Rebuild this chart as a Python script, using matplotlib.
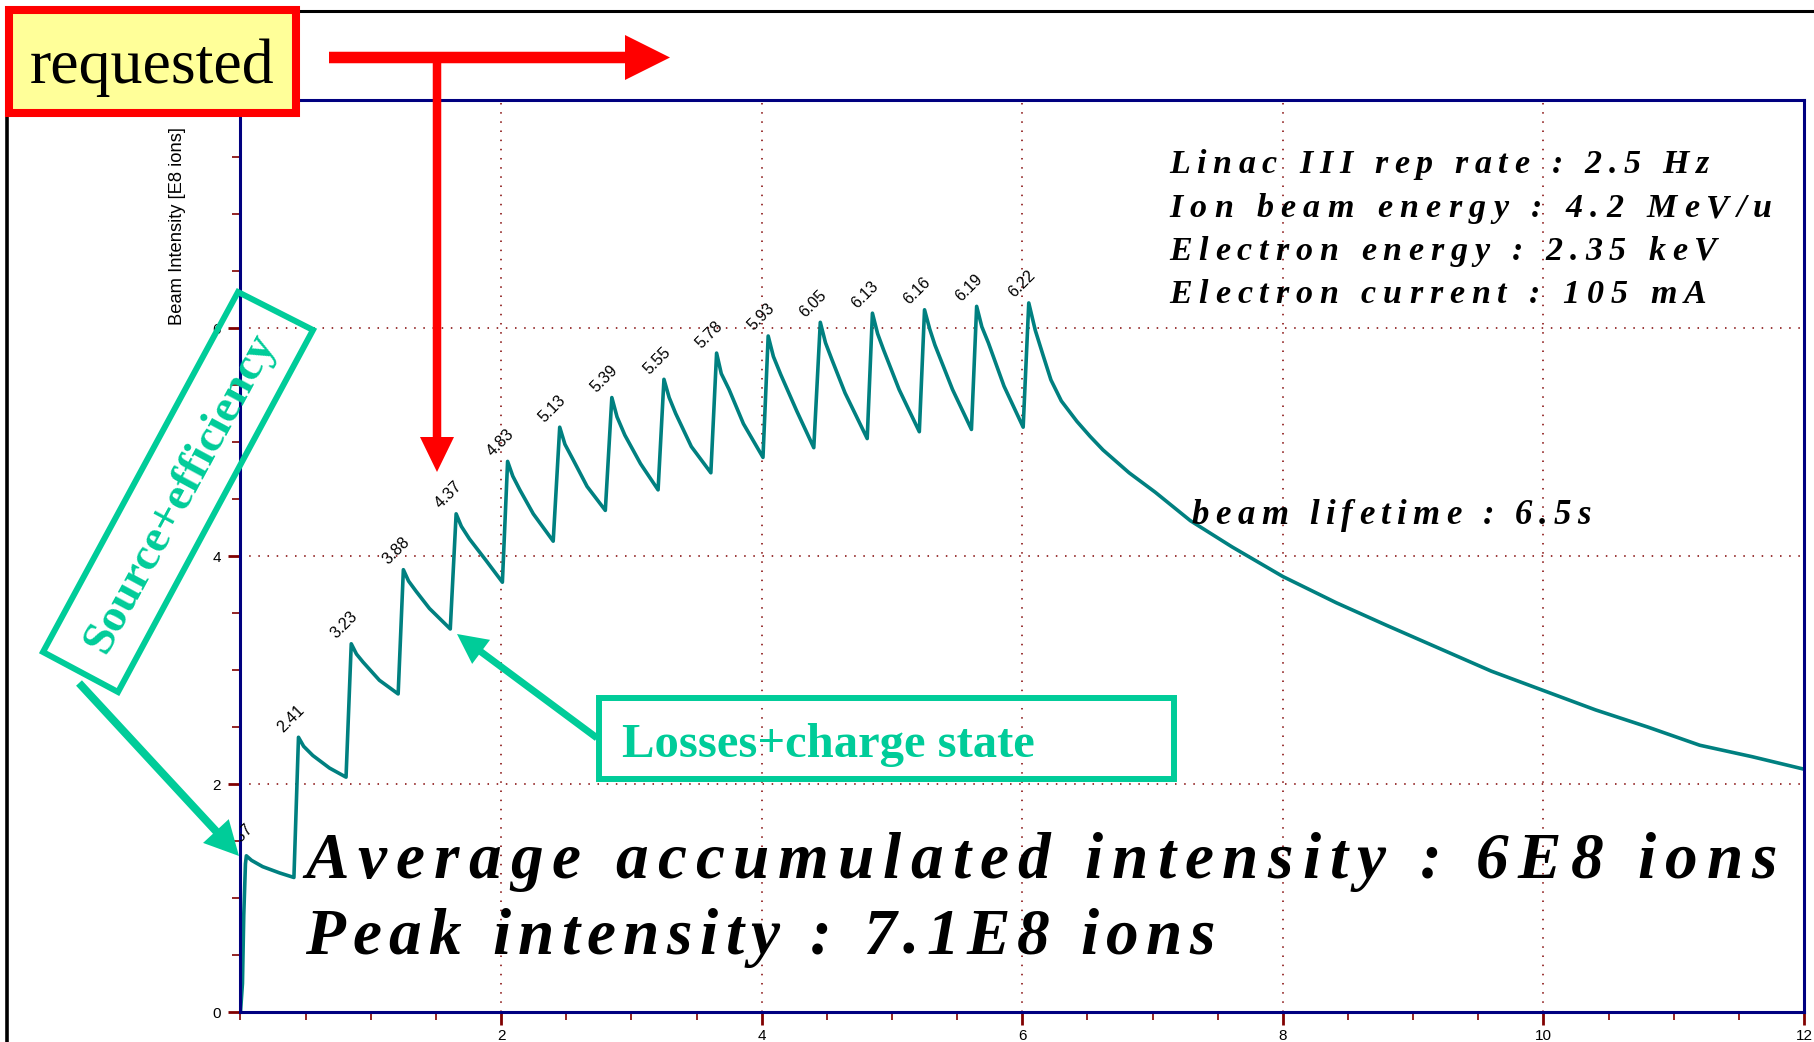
import matplotlib
matplotlib.use('Agg')
import matplotlib.pyplot as plt
from matplotlib import font_manager, ft2font
from matplotlib.font_manager import FontProperties
from matplotlib.patches import Rectangle, Polygon, FancyArrow
from matplotlib.ticker import MultipleLocator

DPI = 100
W, H = 1815, 1042

# beam intensity trace (time [s], intensity [E8 ions])
time_s = [0.000, 0.015, 0.025, 0.038, 0.045, 0.085, 0.17, 0.30, 0.41,
          0.445, 0.485, 0.555, 0.683, 0.81,
          0.85, 0.89, 0.94, 1.066, 1.21,
          1.25, 1.29, 1.348, 1.45, 1.61,
          1.655, 1.695, 1.757, 1.885, 2.01,
          2.05, 2.09, 2.144, 2.247, 2.40,
          2.45, 2.49, 2.555, 2.66, 2.80,
          2.85, 2.89, 2.95, 3.07, 3.205,
          3.25, 3.29, 3.34, 3.46, 3.61,
          3.654, 3.69, 3.75, 3.86, 4.01,
          4.05, 4.09, 4.147, 4.27, 4.40,
          4.45, 4.49, 4.54, 4.64, 4.81,
          4.85, 4.89, 4.935, 5.055, 5.21,
          5.25, 5.29, 5.33, 5.465, 5.61,
          5.65, 5.69, 5.74, 5.86, 6.007,
          6.05, 6.10, 6.16, 6.22, 6.30, 6.42, 6.52, 6.62, 6.82, 7.02, 7.29, 7.61,
          8.0, 8.41, 8.8, 9.2, 9.6, 10.0, 10.4, 10.8, 11.2, 11.6, 12.0]
intensity = [0.00, 0.25, 0.85, 1.30, 1.37, 1.33, 1.275, 1.22, 1.18,
             2.41, 2.33, 2.25, 2.14, 2.06,
             3.23, 3.14, 3.07, 2.91, 2.79,
             3.88, 3.78, 3.69, 3.54, 3.36,
             4.37, 4.26, 4.15, 3.96, 3.77,
             4.83, 4.70, 4.58, 4.37, 4.13,
             5.13, 4.98, 4.84, 4.61, 4.40,
             5.39, 5.22, 5.06, 4.81, 4.58,
             5.55, 5.39, 5.25, 4.96, 4.73,
             5.78, 5.60, 5.46, 5.16, 4.865,
             5.93, 5.75, 5.59, 5.27, 4.95,
             6.05, 5.87, 5.72, 5.43, 5.03,
             6.13, 5.95, 5.81, 5.46, 5.09,
             6.16, 5.99, 5.85, 5.46, 5.11,
             6.19, 6.01, 5.87, 5.49, 5.13,
             6.22, 5.98, 5.76, 5.545, 5.36, 5.18, 5.05, 4.93, 4.73, 4.56, 4.31, 4.08,
             3.82, 3.59, 3.39, 3.19, 2.99, 2.82, 2.65, 2.50, 2.34, 2.24, 2.13]

# injection peaks with their printed values
peak_time = [0.045, 0.445, 0.85, 1.25, 1.655, 2.05, 2.45, 2.85, 3.25, 3.654,
             4.05, 4.45, 4.85, 5.25, 5.65, 6.05]
peak_value = [1.37, 2.41, 3.23, 3.88, 4.37, 4.83, 5.13, 5.39, 5.55, 5.78,
              5.93, 6.05, 6.13, 6.16, 6.19, 6.22]

x_ticks = [2, 4, 6, 8, 10, 12]
y_ticks = [0, 2, 4, 6]

info_lines = ['Linac III rep rate : 2.5 Hz',
              'Ion beam energy : 4.2 MeV/u',
              'Electron energy : 2.35 keV',
              'Electron current : 105 mA']
summary_lines = ['Average accumulated intensity : 6E8 ions',
                 'Peak intensity : 7.1E8 ions']
lifetime_text = 'beam lifetime : 6.5s'

TEAL = '#008080'
GREEN = '#00CC99'
NAVY = '#000080'
DARKRED = '#800000'
RED = '#FF0000'

fig = plt.figure(figsize=(W / DPI, H / DPI), dpi=DPI)

ax = fig.add_axes([240.5 / W, 1 - 1012 / H, 1563.5 / W, 912 / H])
ax.plot(time_s, intensity, color=TEAL, lw=2.6, solid_joinstyle='round')
ax.set_xlim(0, 12)
ax.set_ylim(0, 8)
ax.set_xticks(x_ticks)
ax.set_yticks(y_ticks)
ax.xaxis.set_minor_locator(MultipleLocator(0.5))
ax.yaxis.set_minor_locator(MultipleLocator(0.5))
ax.tick_params(which='major', length=9, width=2, color=DARKRED, labelsize=11,
               labelfontfamily='Liberation Sans')
ax.tick_params(which='minor', length=6, width=1.2, color=DARKRED)
ax.tick_params(axis='x', which='major', pad=3)
ax.tick_params(axis='y', which='major', pad=5)
for sp in ax.spines.values():
    sp.set_color(NAVY)
    sp.set_linewidth(2.2)
ax.grid(True, which='major', color=DARKRED, linestyle=(0, (1, 5)), linewidth=1.1)

ax.set_ylabel('Beam Intensity [E8 ions]', fontsize=13.2, family='Liberation Sans', loc='top')
ax.yaxis.set_label_coords(-0.0349, 0.970)

for t, v in zip(peak_time, peak_value):
    ann = ax.annotate(f'{v:.2f}', (t, v), xytext=(-5.2, 13.5), textcoords='offset points',
                      rotation=45, ha='center', va='center', fontsize=11.5,
                      family='Liberation Sans', annotation_clip=False)
    ann.set_clip_box(ax.bbox)
    ann.set_clip_on(True)

# overlay in pixel coordinates for the slide annotations
ov = fig.add_axes([0, 0, 1, 1])
ov.set_xlim(0, W)
ov.set_ylim(H, 0)
ov.axis('off')

# outer frame
ov.plot([290, W], [11, 11], color='black', lw=2.2)
ov.plot([7, 7], [110, H], color='black', lw=2.6)


def draw_tracked(x0, x1, y, s, size):
    fp = FontProperties(family='Liberation Serif', weight='bold', style='italic', size=size)
    font = ft2font.FT2Font(font_manager.findfont(fp), hinting_factor=1)
    font.set_size(size, DPI)
    adv = [font.load_char(ord(c)).linearHoriAdvance / 65536 for c in s]
    extra = (x1 - x0 - sum(adv)) / (len(s) - 1)
    x = x0
    for c, a in zip(s, adv):
        if c != ' ':
            ov.text(x, y, c, fontproperties=fp, ha='left', va='baseline', color='black')
        x += a + extra


info_base = [173, 217, 260, 303]
info_end = [1709, 1772, 1717, 1706]
for s, yb, xe in zip(info_lines, info_base, info_end):
    draw_tracked(1169, xe, yb, s, 24.5)

draw_tracked(1192, 1591, 524, lifetime_text, 25)

summary_base = [878, 954]
summary_end = [1777, 1215]
for s, yb, xe in zip(summary_lines, summary_base, summary_end):
    draw_tracked(305, xe, yb, s, 47)

# "requested" box and red arrows
ov.add_patch(Rectangle((9, 10), 287, 103, facecolor='#FFFF99', edgecolor=RED, lw=5.8, zorder=3))
ov.text(152, 83, 'requested', fontsize=46, family='Liberation Serif', ha='center',
        va='baseline', color='black', zorder=4)
ov.add_patch(FancyArrow(329, 57.5, 341, 0, width=11.5, head_width=45, head_length=45,
                        length_includes_head=True, color=RED, lw=0, zorder=3))
ov.add_patch(FancyArrow(437, 52, 0, 420, width=8.5, head_width=34, head_length=35,
                        length_includes_head=True, color=RED, lw=0, zorder=3))

# Source+efficiency
ov.add_patch(Polygon([(43, 652), (238, 292), (313, 330), (118, 692)], closed=True,
                     fill=False, edgecolor=GREEN, lw=4.3, zorder=3))
ov.text(181, 493, 'Source+efficiency', rotation=61.6, rotation_mode='anchor',
        ha='center', va='center', fontsize=34, weight='bold', family='Liberation Serif',
        color=GREEN, zorder=4)
ov.add_patch(FancyArrow(79, 683, 160, 173, width=8, head_width=35, head_length=34,
                        length_includes_head=True, color=GREEN, lw=0, zorder=3))

# Losses+charge state
ov.add_patch(Rectangle((599, 698), 575, 81, fill=False, edgecolor=GREEN, lw=4.3, zorder=3))
ov.text(622, 757, 'Losses+charge state', fontsize=35, weight='bold',
        family='Liberation Serif', ha='left', va='baseline', color=GREEN, zorder=4)
ov.add_patch(FancyArrow(597, 738, -140, -104, width=7, head_width=30, head_length=30,
                        length_includes_head=True, color=GREEN, lw=0, zorder=3))

fig.savefig('out.png', dpi=DPI)
